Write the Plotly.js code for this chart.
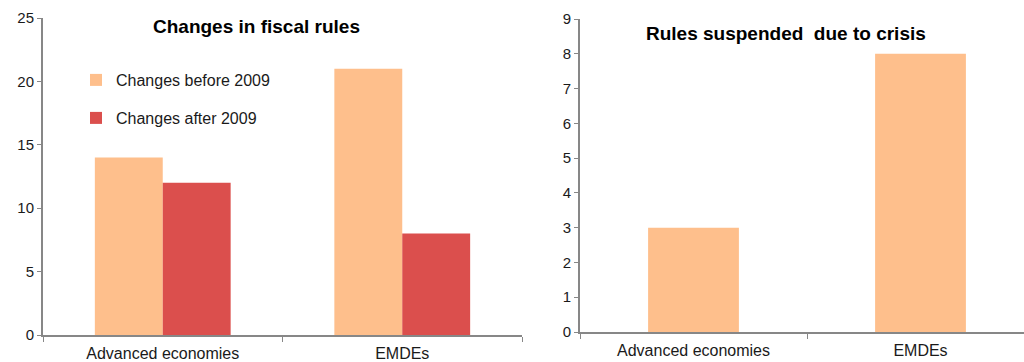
<!DOCTYPE html>
<html>
<head>
<meta charset="utf-8">
<script src="https://cdn.plot.ly/plotly-3.0.1.min.js"></script>
<style>html,body{margin:0;padding:0;background:#fff;}#chart{width:1024px;height:362px;}</style>
</head>
<body>
<div id="chart"></div>
<script>
const categories = ["Advanced economies", "EMDEs"];
const changesBefore2009 = [14, 21];
const changesAfter2009 = [12, 8];
const rulesSuspended = [3, 8];
const leftTitle = "Changes in fiscal rules";
const rightTitle = "Rules suspended  due to crisis";
const seriesNames = ["Changes before 2009", "Changes after 2009"];

const peach = "#FEBF8C";
const red = "#DB4F4D";
const axisGray = "#878787";
const fam = "Liberation Sans, Arial, sans-serif";
const tickFont = {family: fam, size: 15, color: "#1a1a1a"};
const catFont = {family: fam, size: 16, color: "#1a1a1a"};
const legFont = {family: fam, size: 16, color: "#1a1a1a"};

const traces = [
  {type: "bar", x: categories, y: changesBefore2009, name: seriesNames[0], marker: {color: peach},
   xaxis: "x", yaxis: "y", legend: "legend", hoverinfo: "skip"},
  {type: "bar", x: categories, y: changesAfter2009, name: seriesNames[1], marker: {color: red},
   xaxis: "x", yaxis: "y", legend: "legend2", hoverinfo: "skip"},
  {type: "bar", x: categories, y: rulesSuspended, name: "Rules suspended", marker: {color: peach},
   xaxis: "x2", yaxis: "y2", showlegend: false, hoverinfo: "skip", width: 0.4}
];

const H = 362, W = 1024;
const axisCommon = {
  showgrid: false, zeroline: false, showline: true, linecolor: axisGray, linewidth: 2,
  ticks: "outside", ticklen: 4, tickcolor: axisGray, tickwidth: 1, tickfont: tickFont
};

const layout = {
  width: W, height: H,
  margin: {l: 0, r: 0, t: 0, b: 0},
  paper_bgcolor: "#fff", plot_bgcolor: "#fff",
  font: tickFont,
  barmode: "group",
  bargap: 0.433,
  bargroupgap: 0,
  showlegend: true,
  xaxis: Object.assign({}, axisCommon, {
    domain: [43/W, 522/W], anchor: "y", type: "category", tickson: "boundaries",
    range: [-0.5, 1.5], ticklen: 5, tickfont: catFont, ticklabelstandoff: 3
  }),
  yaxis: Object.assign({}, axisCommon, {
    domain: [(H-335)/H, (H-18)/H], anchor: "x", range: [0, 25], dtick: 5
  }),
  xaxis2: Object.assign({}, axisCommon, {
    domain: [580/W, 1], anchor: "y2", type: "category", tickson: "boundaries",
    range: [-0.5, -0.5 + (1024-580)/227], ticklen: 5, tickfont: catFont, ticklabelstandoff: 3
  }),
  yaxis2: Object.assign({}, axisCommon, {
    domain: [(H-332)/H, (H-19)/H], anchor: "x2", range: [0, 9], dtick: 1
  }),
  legend: {x: 76/W, y: 1 - 80/H, xanchor: "left", yanchor: "middle", bgcolor: "rgba(0,0,0,0)",
           font: legFont, itemwidth: 30},
  legend2: {x: 76/W, y: 1 - 118/H, xanchor: "left", yanchor: "middle", bgcolor: "rgba(0,0,0,0)",
            font: legFont, itemwidth: 30},
  annotations: [
    {text: "<b>" + leftTitle + "</b>", xref: "paper", yref: "paper", x: 256/W, y: 1 - 26/H,
     xanchor: "center", yanchor: "middle", showarrow: false,
     font: {family: fam, size: 19, color: "#000"}},
    {text: "<b>" + rightTitle + "</b>", xref: "paper", yref: "paper", x: 786/W, y: 1 - 33/H,
     xanchor: "center", yanchor: "middle", showarrow: false,
     font: {family: fam, size: 19, color: "#000"}}
  ]
};

Plotly.newPlot("chart", traces, layout, {staticPlot: true, displayModeBar: false});
</script>
</body>
</html>
